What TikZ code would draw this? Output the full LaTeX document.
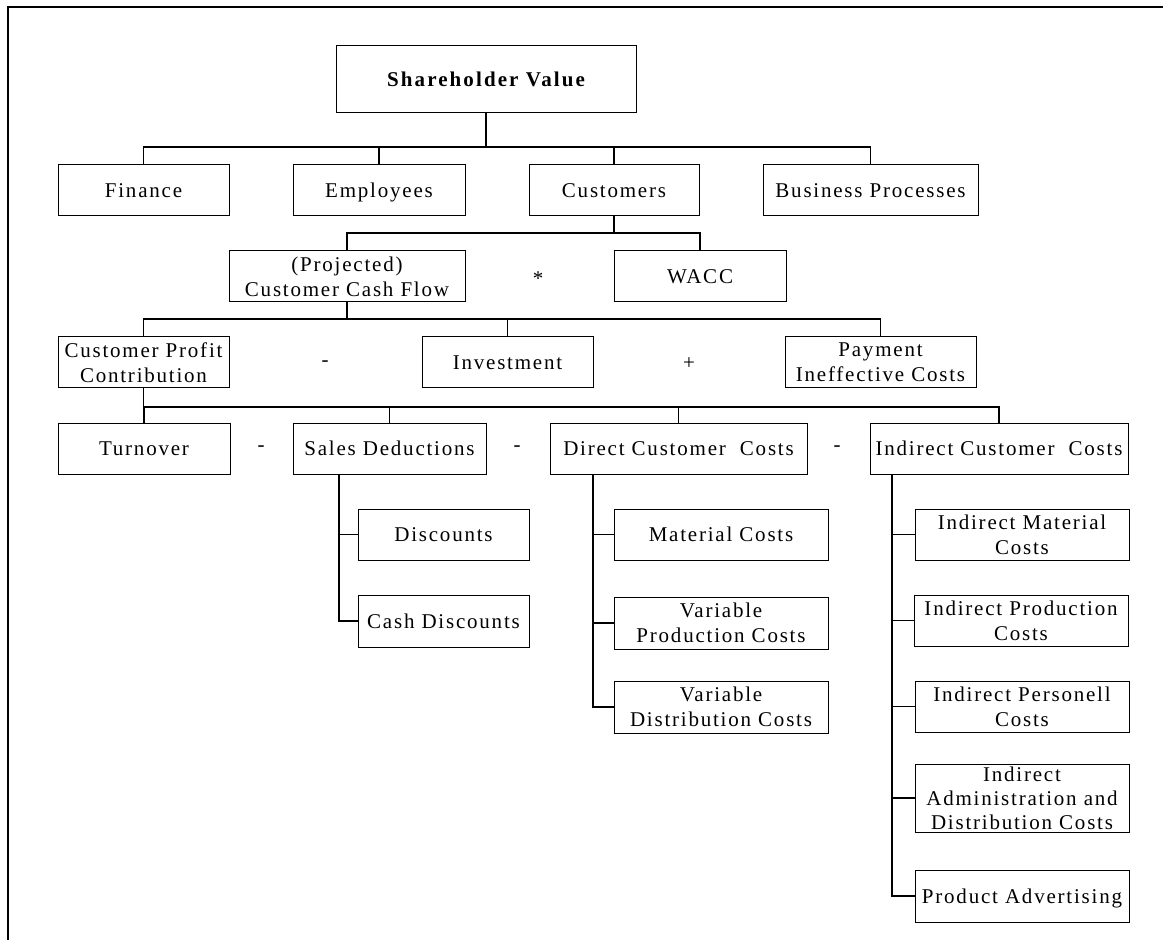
\documentclass[tikz,border=0pt]{standalone}
\usepackage{fontspec}
\setmainfont{Liberation Serif}[LetterSpace=8.5]
\tikzset{
  box/.style={draw, line width=0.5pt, inner sep=0pt, align=center,
    minimum width=#1*0.5pt, minimum height=25.5pt, text depth=0pt,
    font=\fontsize{10.5}{12.5}\selectfont},
  box/.default=171,
  link/.style={line width=0.6pt},
  op/.style={inner sep=0pt, font=\fontsize{10.5}{12.5}\selectfont}
}
\begin{document}
\begin{tikzpicture}[x=0.5pt, y=-0.5pt]
  \useasboundingbox (0,0) rectangle (1170,940);
  % Frame
  \draw[line width=0.8pt] (8,940) -- (8,7) -- (1163,7);

  % Top
  \node[box=300, minimum height=33.5pt,
    font=\fontsize{10.5}{12.5}\selectfont\bfseries\addfontfeatures{LetterSpace=10}] (sv) at (486,79.5) {Shareholder Value};

  % Perspectives
  \node[box] (fin) at (143.5,190.5) {Finance};
  \node[box=172] (emp) at (379,190.5) {Employees};
  \node[box=170] (cus) at (614,190.5) {Customers};
  \node[box=215] (bp) at (870.5,190.5) {Business Processes};

  % Customer value
  \node[box=236] (ccf) at (347,276.5) {(Projected)\\Customer Cash Flow};
  \node[op] (times) at (538,279) {*};
  \node[box=172] (wacc) at (700,276.5) {WACC};

  % Cash flow
  \node[box] (cpc) at (143.5,362.5) {Customer Profit\\Contribution};
  \node[op] (minus1) at (325,364) {-};
  \node[box] (inv) at (507.5,362.5) {Investment};
  \node[op] (plus) at (689,364) {+};
  \node[box=191] (pic) at (880.5,362.5) {Payment\\Ineffective Costs};

  % Profit contribution
  \node[box=172] (turn) at (144,448.5) {Turnover};
  \node[op] (minus2) at (261,449) {-};
  \node[box=193] (sd) at (389.5,448.5) {Sales Deductions};
  \node[op] (minus3) at (517,449) {-};
  \node[box=257] (dcc) at (678.5,448.5) {Direct Customer~~Costs};
  \node[op] (minus4) at (837,449) {-};
  \node[box=258] (icc) at (999,448.5) {Indirect Customer~~Costs};

  % Sales deductions
  \node[box] (disc) at (443.5,534.5) {Discounts};
  \node[box, minimum height=26pt] (cdisc) at (443.5,621) {Cash Discounts};

  % Direct costs
  \node[box=214] (mat) at (721,534.5) {Material Costs};
  \node[box=214, minimum height=26pt] (vpc) at (721,623) {Variable\\Production Costs};
  \node[box=214, minimum height=26pt] (vdc) at (721,707) {Variable\\Distribution Costs};

  % Indirect costs
  \node[box=214] (imc) at (1022,534.5) {Indirect Material\\Costs};
  \node[box=214] (ipc) at (1021,620.5) {Indirect Production\\Costs};
  \node[box=214] (iperc) at (1022,706.5) {Indirect Personell\\Costs};
  \node[box=214, minimum height=34pt,
    font=\fontsize{10.5}{12}\selectfont] (iadc) at (1022,798) {Indirect\\Administration and\\Distribution Costs};
  \node[box=214, minimum height=26pt] (pa) at (1022,896) {Product Advertising};

  % Tree links
  \coordinate (bus1) at (486,147);
  \draw[link] (sv.south) -- (bus1);
  \draw[link] (fin.north) -- (fin.north |- bus1) -- (bp.north |- bus1) -- (bp.north);
  \foreach \n in {emp,cus}
    \draw[link] (\n.north) -- (\n.north |- bus1);

  \coordinate (bus2) at (614,233);
  \draw[link] (cus.south) -- (bus2);
  \draw[link] (ccf.north) -- (ccf.north |- bus2) -- (wacc.north |- bus2) -- (wacc.north);

  \coordinate (bus3) at (347,319);
  \draw[link] (ccf.south) -- (bus3);
  \draw[link] (cpc.north) -- (cpc.north |- bus3) -- (pic.north |- bus3) -- (pic.north);
  \draw[link] (inv.north) -- (inv.north |- bus3);

  \coordinate (bus4) at (144,407);
  \draw[link] (cpc.south) -- (cpc.south |- bus4);
  \draw[link] (turn.north) -- (turn.north |- bus4) -- (icc.north |- bus4) -- (icc.north);
  \foreach \n in {sd,dcc}
    \draw[link] (\n.north) -- (\n.north |- bus4);

  % Branch trunks
  \coordinate (sdx) at (339,0);
  \coordinate (dccx) at (593,0);
  \coordinate (iccx) at (892,0);
  \draw[link] (sd.south -| sdx) |- (cdisc.west);
  \draw[link] (disc.west) -- (disc.west -| sdx);
  \draw[link] (dcc.south -| dccx) |- (vdc.west);
  \foreach \n in {mat,vpc}
    \draw[link] (\n.west) -- (\n.west -| dccx);
  \draw[link] (icc.south -| iccx) |- (pa.west);
  \foreach \n in {imc,ipc,iperc,iadc}
    \draw[link] (\n.west) -- (\n.west -| iccx);
\end{tikzpicture}
\end{document}
